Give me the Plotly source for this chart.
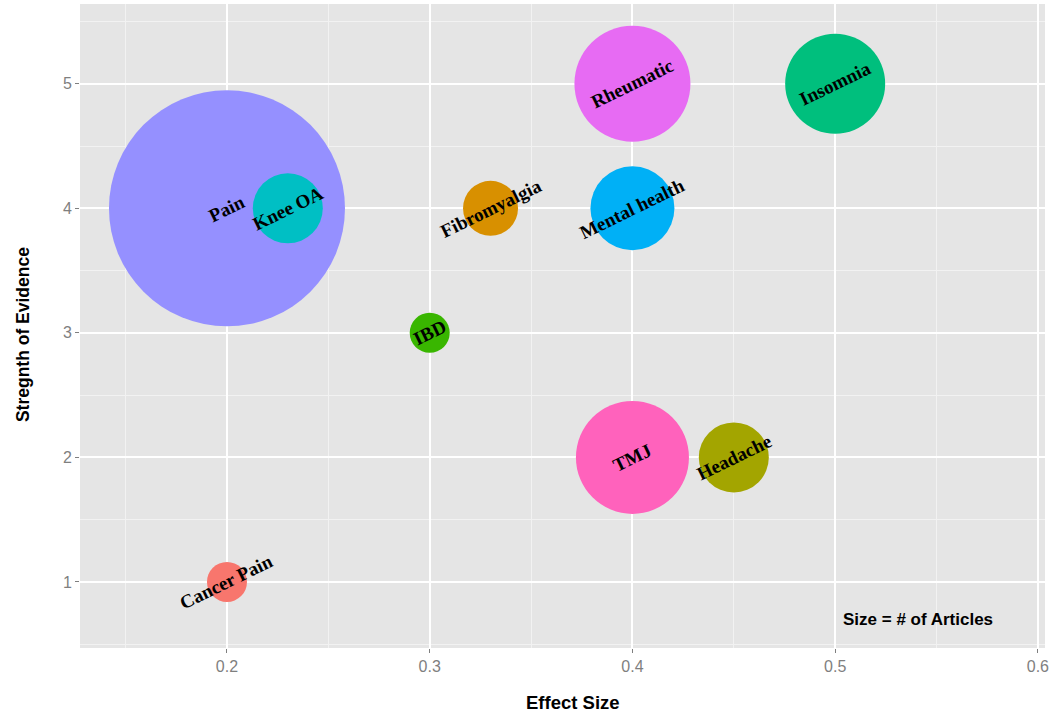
import plotly.graph_objects as go

conditions = ["Pain", "Knee OA", "Fibromyalgia", "Mental health", "Rheumatic",
              "Insomnia", "IBD", "TMJ", "Headache", "Cancer Pain"]
effect_size = [0.20, 0.23, 0.33, 0.40, 0.40, 0.50, 0.30, 0.40, 0.45, 0.20]
evidence = [4, 4, 4, 4, 5, 5, 3, 2, 2, 1]
articles = [236, 70, 55, 84, 116, 100, 40, 113, 70, 40]
colors = ["#9590FF", "#00BFC4", "#D89000", "#00B0F6", "#E76BF3",
          "#00BF7D", "#39B600", "#FF62BC", "#A3A500", "#F8766D"]

x_ticks = [0.2, 0.3, 0.4, 0.5, 0.6]
y_ticks = [1, 2, 3, 4, 5]

fig = go.Figure()
fig.add_trace(go.Scatter(
    x=effect_size, y=evidence, mode="markers",
    marker=dict(size=articles, sizemode="diameter", sizeref=1,
                color=colors, opacity=1, line=dict(width=0)),
    hovertext=conditions, showlegend=False,
))

for name, xv, yv in zip(conditions, effect_size, evidence):
    fig.add_annotation(x=xv, y=yv, text="<b>" + name + "</b>", showarrow=False, textangle=-26,
                       font=dict(family="Liberation Serif", size=19, color="black"),
                       xanchor="center", yanchor="middle")

fig.add_annotation(x=0.541, y=0.695, text="<b>Size = # of Articles</b>", showarrow=False,
                   font=dict(family="Liberation Sans", size=17, color="black"),
                   xanchor="center", yanchor="middle")

# axis titles
fig.add_annotation(xref="paper", yref="paper", x=0.511, y=-0.085, text="<b>Effect Size</b>",
                   showarrow=False, xanchor="center", yanchor="middle",
                   font=dict(family="Liberation Sans", size=18.5, color="black"))
fig.add_annotation(xref="paper", yref="paper", x=-0.059, y=0.486, text="<b>Stregnth of Evidence</b>",
                   showarrow=False, xanchor="center", yanchor="middle", textangle=-90,
                   font=dict(family="Liberation Sans", size=17.5, color="black"))

fig.update_layout(
    width=1055, height=712,
    margin=dict(l=80, r=10, t=4, b=64, autoexpand=False),
    paper_bgcolor="white", plot_bgcolor="#E5E5E5",
    font=dict(family="Liberation Sans", color="#7F7F7F", size=15),
    xaxis=dict(range=[0.1275, 0.6035], tickvals=x_ticks, ticktext=["0.2", "0.3", "0.4", "0.5", "0.6"],
               showgrid=True, gridcolor="white", gridwidth=1.5, automargin=False,
               minor=dict(dtick=0.05, tick0=0.15, showgrid=True, gridcolor="#F2F2F2", gridwidth=0.8),
               ticks="outside", ticklen=4, tickcolor="#7F7F7F", zeroline=False,
               tickfont=dict(size=16, color="#7F7F7F")),
    yaxis=dict(range=[0.47, 5.64], tickvals=y_ticks,
               showgrid=True, gridcolor="white", gridwidth=1.5, automargin=False,
               minor=dict(dtick=0.5, tick0=0.5, showgrid=True, gridcolor="#F2F2F2", gridwidth=0.8),
               ticks="outside", ticklen=4, tickcolor="#7F7F7F", zeroline=False,
               tickfont=dict(size=16, color="#7F7F7F")),
)

fig.write_html("out.html", config={"displayModeBar": False},
               post_script="document.body.style.margin='0';document.body.style.overflow='hidden';")
